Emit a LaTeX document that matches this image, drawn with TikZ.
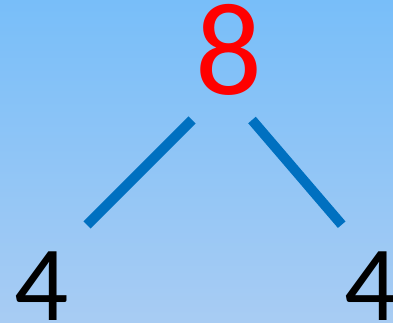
\documentclass[tikz,border=0pt]{standalone}
\usepackage{fontspec}
\setmainfont{Carlito}
\usetikzlibrary{positioning}
\definecolor{SkyTop}{RGB}{120,190,249}
\definecolor{SkyBottom}{RGB}{168,204,243}
\definecolor{Branch}{HTML}{0070C0}
\definecolor{Whole}{HTML}{FF0000}
\begin{document}
\begin{tikzpicture}[
    x=1pt,y=-1pt,
    whole/.style={inner sep=0pt,text=Whole,font=\fontsize{132}{132}\selectfont},
    part/.style={inner sep=0pt,text=black,font=\fontsize{107}{107}\selectfont},
    branch/.style={line width=10pt,color=Branch}
  ]
    \shade[top color=SkyTop,bottom color=SkyBottom] (0,0) rectangle (393,323);
    \useasboundingbox (0,0) rectangle (393,323);
    \node[whole] (eight) at (228.5,50) {8};
    \node[part] (leftfour) at (41.5,286) {4};
    \node[part] (rightfour) at (371.5,286) {4};
    \draw[branch] ([shift={(-36.5,70)}]eight.center)--([shift={(45.5,-61)}]leftfour.center);
    \draw[branch] ([shift={(23.5,70)}]eight.center)--([shift={(-29.8,-61.3)}]rightfour.center);
  \end{tikzpicture}
\end{document}
